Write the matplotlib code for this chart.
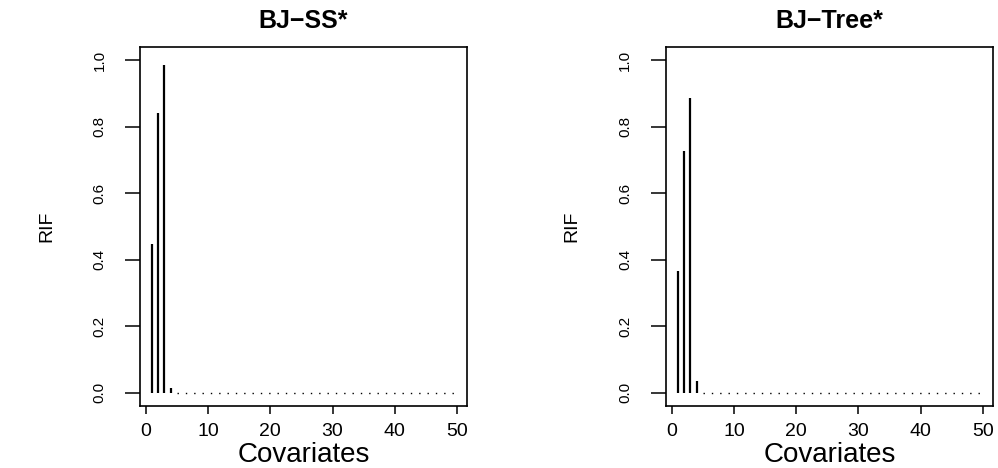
import numpy as np
import matplotlib.pyplot as plt

plt.rcParams['font.family'] = ['Liberation Sans', 'DejaVu Sans']

# RIF values for covariates 1..50 (all beyond the 4th are zero)
covariates = np.arange(1, 51)
rif_ss = [0.447, 0.842, 0.985, 0.015] + [0.0] * 46
rif_tree = [0.365, 0.728, 0.888, 0.035] + [0.0] * 46
panel_titles = ['BJ\u2212SS*', 'BJ\u2212Tree*']
x_ticks = [0, 10, 20, 30, 40, 50]
y_ticks = [0.0, 0.2, 0.4, 0.6, 0.8, 1.0]
y_ticklabels = ['0.0', '0.2', '0.4', '0.6', '0.8', '1.0']

fig = plt.figure(figsize=(9.98, 4.68), dpi=100)
positions = [[0.140, 0.1325, 0.328, 0.767],
             [0.667, 0.1325, 0.328, 0.767]]


def draw_panel(ax, values, title):
    vals = np.array(values)
    nz = vals > 0
    # type='h' style vertical lines
    ax.vlines(covariates[nz], 0, vals[nz], color='black', linewidth=1.6)
    # zero values shown as dotted baseline
    ax.plot(covariates[~nz], vals[~nz], color='black',
            linestyle=(0, (1, 5)), linewidth=1.0)

    ax.set_xlim(-0.95, 51.6)
    ax.set_ylim(-0.04, 1.04)
    for s in ax.spines.values():
        s.set_linewidth(1.2)

    ax.set_xticks(x_ticks)
    ax.set_xticklabels([str(t) for t in x_ticks], fontsize=14)
    ax.set_yticks(y_ticks)
    ax.set_yticklabels(y_ticklabels, fontsize=11, rotation=90, va='center')
    ax.tick_params(axis='x', direction='out', length=6, width=1.1, pad=6)
    ax.tick_params(axis='y', direction='out', length=11, width=1.1, pad=13)

    ax.set_xlabel('Covariates', fontsize=20)
    ax.xaxis.set_label_coords(0.5, -0.136)
    ax.xaxis.label.set_va('center')
    ax.set_ylabel('RIF', fontsize=14)
    ax.yaxis.set_label_coords(-0.285, 0.5)
    ax.yaxis.label.set_va('center')

    ax.text(0.5, 1.072, title, transform=ax.transAxes, ha='center',
            va='center', fontsize=18, fontweight='bold')


for pos, vals, title in zip(positions, [rif_ss, rif_tree], panel_titles):
    ax = fig.add_axes(pos)
    draw_panel(ax, vals, title)

fig.savefig('out.png', dpi=100)
